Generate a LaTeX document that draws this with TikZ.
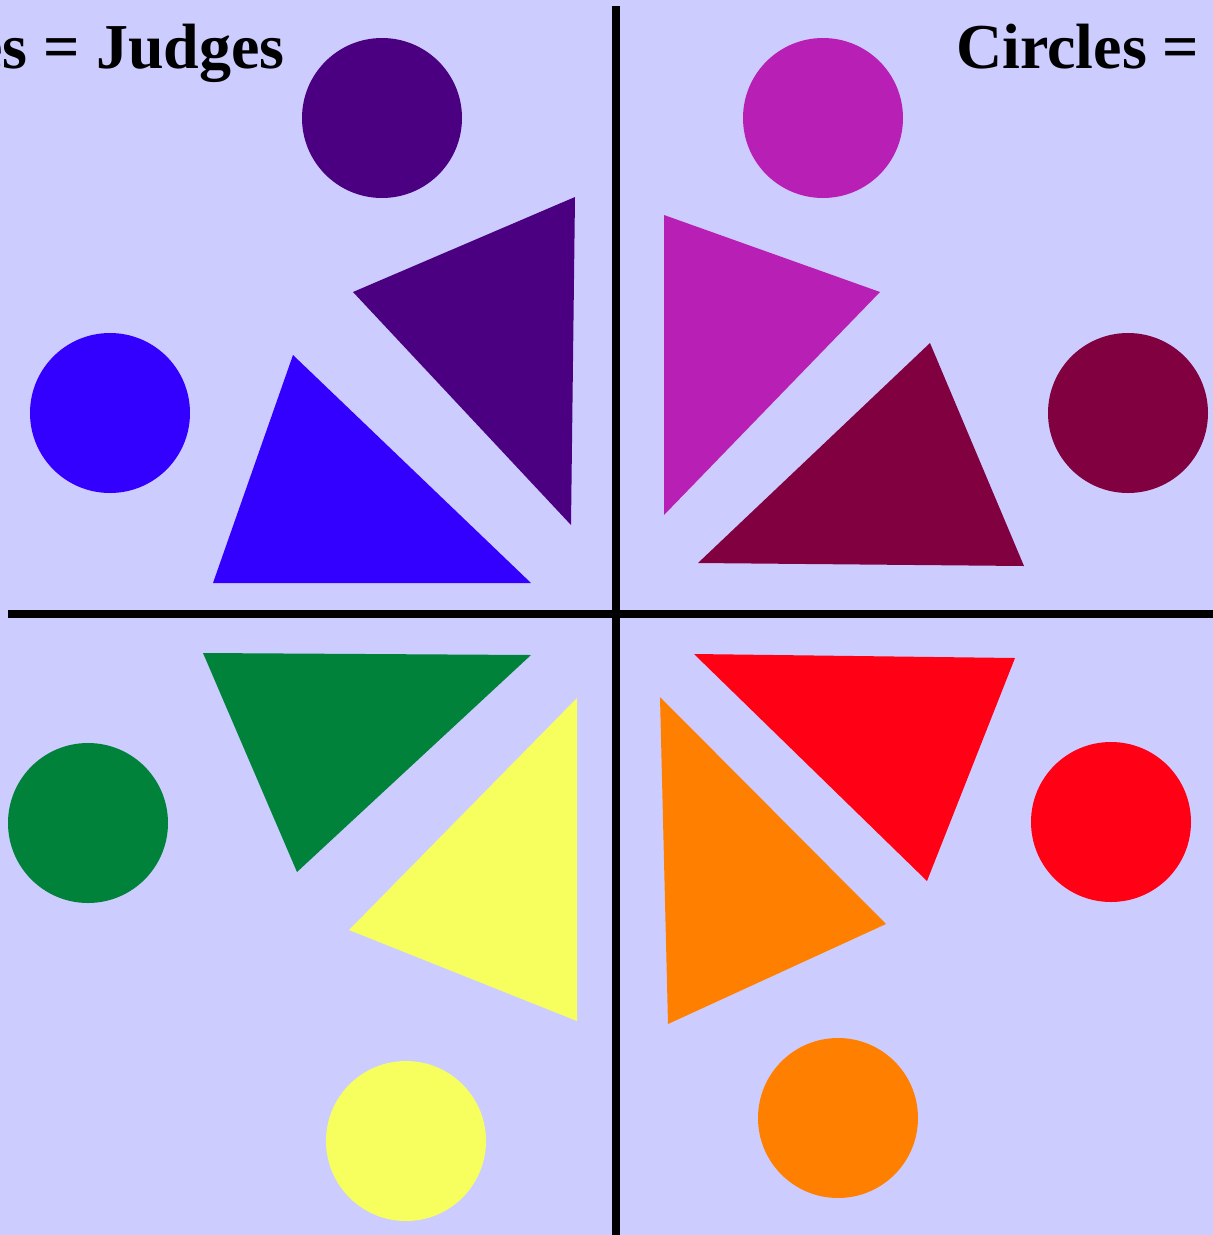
\documentclass[tikz,border=0pt]{standalone}
\usepackage{fontspec}
\setmainfont{Liberation Serif}
\definecolor{bgc}{HTML}{CCCCFF}
\definecolor{cpurple}{HTML}{4B0082}
\definecolor{cblue}{HTML}{3300FF}
\definecolor{cmagenta}{HTML}{B81FB5}
\definecolor{cmaroon}{HTML}{800040}
\definecolor{cgreen}{HTML}{00823B}
\definecolor{cyellow}{HTML}{F7FF5E}
\definecolor{cred}{HTML}{FF0015}
\definecolor{corange}{HTML}{FF8000}
\tikzset{
  disc/.style={circle, inner sep=0pt, minimum size=160pt, fill=#1, draw=none},
  tri/.style={fill=#1, draw=none},
  divider/.style={line width=8pt, black, line cap=butt},
  title/.style={font=\fontsize{64}{76}\selectfont\bfseries, inner sep=0pt}
}
\begin{document}
\begin{tikzpicture}[x=1pt,y=-1pt]
\useasboundingbox (0,0) rectangle (1213,1235);
\clip (0,0) rectangle (1213,1235);
\fill[bgc] (0,0) rectangle (1213,1235);
% dividers
\coordinate (vtop) at (616,6);
\coordinate (vbot) at (616,1240);
\coordinate (hl) at (8,614);
\coordinate (hr) at (1220,614);
\draw[divider] (vtop) -- (vbot);
\draw[divider] (hl) -- (hr);
% titles
\node[title, anchor=base east] (tl) at (285,68) {es = Judges};
\node[title, anchor=base west] (tr) at (956,68) {Circles =};
% top-left quadrant
\node[disc=cpurple] (c1) at (382,118) {};
\fill[tri=cpurple] (353,292) -- (575,197) -- (571,525) -- cycle;
\node[disc=cblue] (c2) at (110,413) {};
\fill[tri=cblue] (293,355) -- (531,583) -- (213,583) -- cycle;
% top-right quadrant
\node[disc=cmagenta] (c3) at (823,118) {};
\fill[tri=cmagenta] (664,215) -- (880,292) -- (664,515) -- cycle;
\node[disc=cmaroon] (c4) at (1128,413) {};
\fill[tri=cmaroon] (930,343) -- (1024,566) -- (698,563) -- cycle;
% bottom-left quadrant
\node[disc=cgreen] (c5) at (88,823) {};
\fill[tri=cgreen] (203,653) -- (531,655) -- (297,872) -- cycle;
\node[disc=cyellow] (c6) at (406,1141) {};
\fill[tri=cyellow] (577,698) -- (577,1021) -- (349,930) -- cycle;
% bottom-right quadrant
\node[disc=cred] (c7) at (1111,822) {};
\fill[tri=cred] (694,654) -- (1015,658) -- (927,881) -- cycle;
\node[disc=corange] (c8) at (838,1118) {};
\fill[tri=corange] (660,697) -- (886,924) -- (668,1024) -- cycle;
\end{tikzpicture}
\end{document}
